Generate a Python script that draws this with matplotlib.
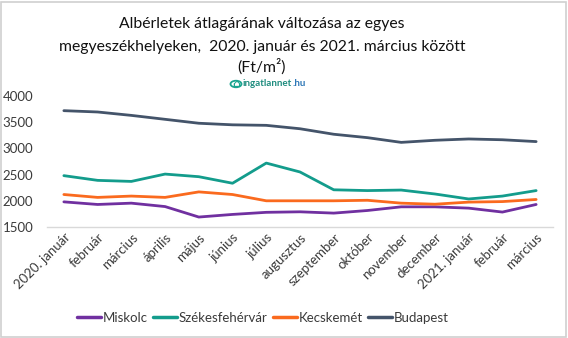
import matplotlib
matplotlib.use("Agg")
import matplotlib.pyplot as plt
from matplotlib.patches import Rectangle

months = ["2020. január", "február", "március", "április", "május", "június",
          "július", "augusztus", "szeptember", "október", "november",
          "december", "2021. január", "február", "március"]

miskolc = [1980, 1930, 1955, 1890, 1690, 1740, 1780, 1790, 1765, 1815,
           1885, 1885, 1860, 1785, 1930]
szekesfehervar = [2480, 2390, 2370, 2510, 2460, 2335, 2720, 2550, 2210, 2195,
                  2205, 2130, 2035, 2090, 2195]
kecskemet = [2120, 2065, 2090, 2065, 2170, 2120, 2000, 2000, 2000, 2010,
             1955, 1935, 1975, 1985, 2025]
budapest = [3720, 3695, 3630, 3555, 3480, 3450, 3440, 3375, 3270, 3205,
            3115, 3155, 3180, 3165, 3130]

series = [
    ("Miskolc", miskolc, "#7030A0"),
    ("Székesfehérvár", szekesfehervar, "#139C8C"),
    ("Kecskemét", kecskemet, "#FA6A1E"),
    ("Budapest", budapest, "#44546A"),
]

y_ticks = [1500, 2000, 2500, 3000, 3500, 4000]

FONT = "Lato"
W, H = 568, 338
fig = plt.figure(figsize=(W / 100, H / 100), dpi=100)
fig.patch.set_facecolor("white")

# thin frame around the whole chart
fig.patches.append(Rectangle((1 / W, 1 / H), 1 - 3 / W, 1 - 3 / H,
                             transform=fig.transFigure, fill=False,
                             edgecolor="#D0D0D0", linewidth=1.2))

ax = fig.add_axes([47 / W, 1 - 227 / H, (553 - 47) / W, (227 - 96) / H])
x = list(range(len(months)))
for name, vals, col in series:
    ax.plot(x, vals, color=col, linewidth=2.0, label=name,
            solid_capstyle="round", solid_joinstyle="round")

ax.set_xlim(-0.5, len(months) - 0.5)
ax.set_ylim(1500, 4000)
ax.set_yticks(y_ticks)
ax.set_yticklabels([str(v) for v in y_ticks], fontsize=9.5, family=FONT,
                   color="#3A3A3A")
ax.set_xticks(x)
ax.set_xticklabels(months, rotation=45, ha="right", rotation_mode="anchor",
                   fontsize=9.5, family=FONT, color="#3A3A3A")
ax.tick_params(axis="both", length=0, pad=3)
ax.tick_params(axis="y", pad=10)
for s in ["top", "right", "left"]:
    ax.spines[s].set_visible(False)
ax.spines["bottom"].set_color("#D9D9D9")
ax.spines["bottom"].set_linewidth(1.0)

title_kw = dict(ha="center", va="center", fontsize=11.3, family=FONT,
                color="#111111")
fig.text(262 / W, 1 - 24 / H, "Albérletek átlagárának változása az egyes",
         **title_kw)
fig.text(262 / W, 1 - 47 / H,
         "megyeszékhelyeken,  2020. január és 2021. március között",
         **title_kw)
fig.text(262 / W, 1 - 67 / H, "(Ft/m²)", **title_kw)

# site mark under the title
fig.text(236 / W, 1 - 84 / H, "⌂", ha="center", va="center", fontsize=8,
         color="#1AA58F", family="DejaVu Sans", fontweight="bold")
fig.patches.append(plt.Circle((236 / W, 1 - 84 / H), 5.5 / W,
                              transform=fig.transFigure, fill=False,
                              edgecolor="#1AA58F", linewidth=1.3))
t1 = fig.text(243 / W, 1 - 84 / H, "ingatlannet", ha="left", va="center",
              fontsize=7, family=FONT, fontweight="bold", color="#1E8C7E")
fig.canvas.draw()
bb = t1.get_window_extent()
fig.text(bb.x1 / W, 1 - 84 / H, ".hu", ha="left", va="center", fontsize=7,
         family=FONT, fontweight="bold", color="#2E78B7")

leg = fig.legend(loc="center", bbox_to_anchor=(263 / W, 1 - 318 / H),
                 ncol=4, frameon=False, handlelength=1.8,
                 handletextpad=0.1, columnspacing=0.45,
                 prop={"family": FONT, "size": 9.5})
for line in leg.get_lines():
    line.set_linewidth(2.5)
for t in leg.get_texts():
    t.set_color("#3A3A3A")

fig.savefig("out.png", dpi=100, facecolor="white")
